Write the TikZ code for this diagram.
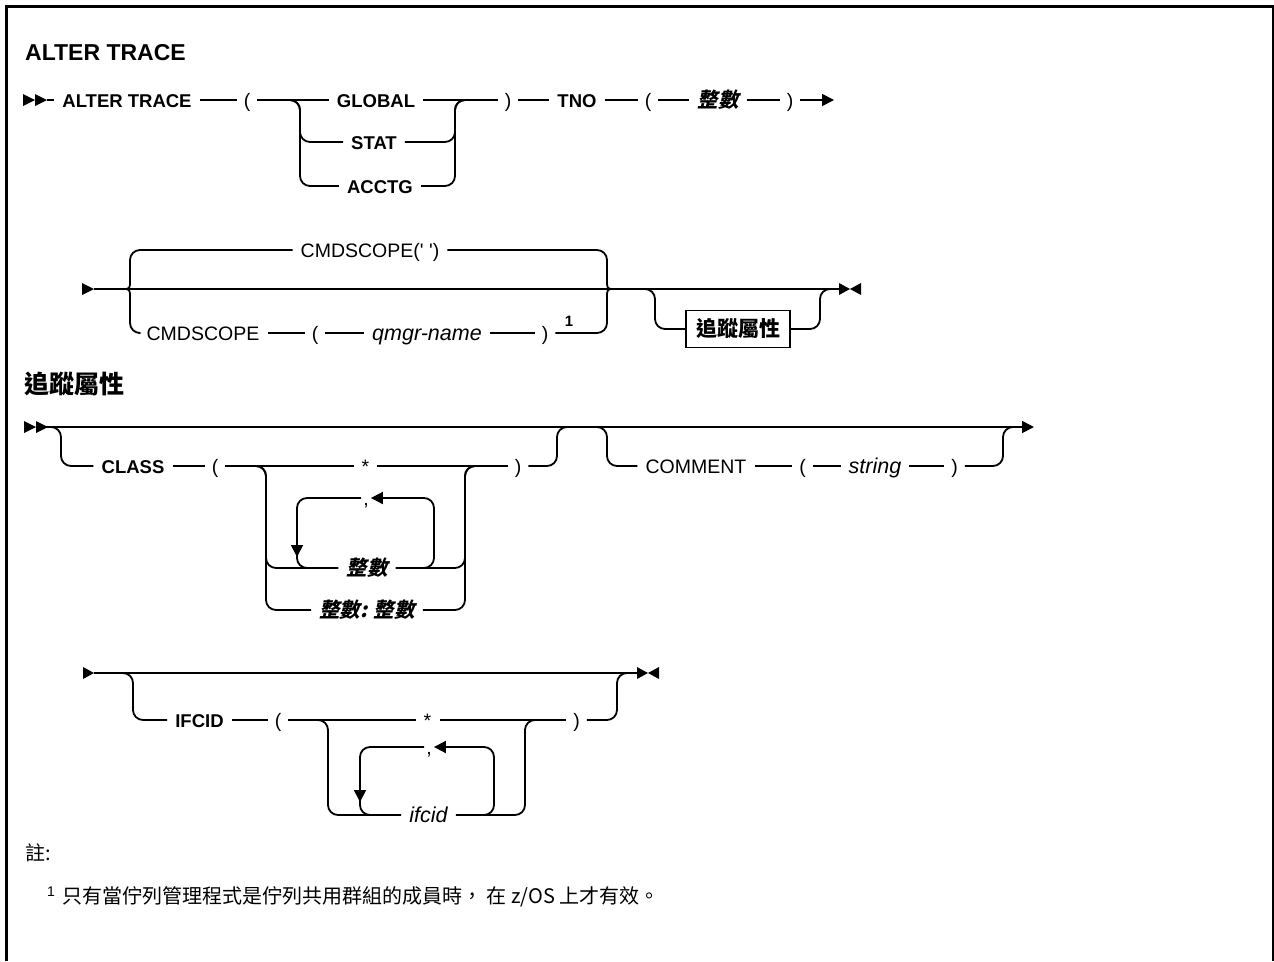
\documentclass[tikz,border=0pt]{standalone}
\usepackage{fontspec}
\setmainfont{Liberation Sans}
\newfontfamily\cjk{Noto Sans CJK TC}
\newfontfamily\cjksl{Noto Sans CJK TC}[FakeSlant=0.22]
\usetikzlibrary{arrows.meta}
\tikzset{
 rail/.style={line width=1.8pt, line join=round},
 rnd/.style={rounded corners=10pt},
 tok/.style={inner xsep=8pt, inner ysep=0pt, text height=14pt, text depth=0pt, font=\fontsize{19.5}{22}\selectfont},
 kwb/.style={tok, font=\bfseries\fontsize{18.5}{22}\selectfont},
 kwr/.style={tok},
 vartok/.style={tok, font=\itshape\fontsize{21.5}{24}\selectfont},
 cvar/.style={tok, font=\cjksl\bfseries\fontsize{20.5}{22}\selectfont},
 paren/.style={tok, inner xsep=7pt},
 sepc/.style={tok, inner xsep=2pt},
 arrowend/.style={-{Triangle[length=12pt,width=12pt]}},
 attrbox/.style={draw, line width=1.8pt, inner sep=0pt, minimum width=104pt, minimum height=37pt, font=\cjk\bfseries\fontsize{21}{24}\selectfont},
 cjktext/.style={inner sep=0pt, font=\cjk\fontsize{20}{24}\selectfont},
}
\begin{document}
\begin{tikzpicture}[x=1pt,y=-1pt]
\useasboundingbox (0,0) rectangle (1274,961);
\fill[white] (0,0) rectangle (1274,961);
\draw[line width=2.5pt] (6.25,961) -- (6.25,6.25) -- (1272.75,6.25) -- (1272.75,961);
% title
\node[anchor=base west, inner sep=0pt, font=\bfseries\fontsize{23}{26}\selectfont] (title) at (25,60) {ALTER TRACE};
% ---------- row 1
\fill (23,94) -- (35,100) -- (23,106) -- cycle;
\fill (35,94) -- (47,100) -- (35,106) -- cycle;
\coordinate (s1) at (47,100);
\node[kwb] (alter) at (127,100) {ALTER TRACE};
\node[paren] (lp1) at (247,100) {(};
\node[kwb] (global) at (376,100) {GLOBAL};
\node[kwb] (stat) at (374,142) {STAT};
\node[kwb] (acctg) at (380,186) {ACCTG};
\node[paren] (rp1) at (508,100) {)};
\node[kwb] (tno) at (577,100) {TNO};
\node[paren] (lp2) at (648,100) {(};
\node[cvar] (int1) at (718,100) {整數};
\node[paren] (rp2) at (790,100) {)};
\coordinate (e1) at (834,100);
\draw[rail] (s1) -- (alter);
\draw[rail] (alter) -- (lp1);
\draw[rail] (lp1) -- (global);
\draw[rail] (global) -- (rp1);
\draw[rail] (rp1) -- (tno);
\draw[rail] (tno) -- (lp2);
\draw[rail] (lp2) -- (int1);
\draw[rail] (int1) -- (rp2);
\draw[rail,arrowend] (rp2) -- (e1);
\draw[rail,rnd] (288,100) -- (300,100) -- (300,142) -- (stat.west);
\draw[rail,rnd] (288,100) -- (300,100) -- (300,186) -- (acctg.west);
\draw[rail,rnd] (stat.east) -- (455,142) -- (455,100) -- (468,100);
\draw[rail,rnd] (acctg.east) -- (455,186) -- (455,100) -- (468,100);
% ---------- row 2
\fill (82,283) -- (94,289) -- (82,295) -- cycle;
\coordinate (s2) at (94,289);
\coordinate (e2) at (840,289);
\draw[rail] (s2) -- (e2);
\fill (839,283) -- (850,289) -- (839,295) -- cycle;
\fill (861,283) -- (850,289) -- (861,295) -- cycle;
\node[kwr] (cmd1) at (370,250) {CMDSCOPE(\textquotesingle\ \textquotesingle)};
\node[kwr] (cmd2) at (203,333) {CMDSCOPE};
\node[paren] (lp3) at (315,333) {(};
\node[vartok] (qmgr) at (427,333) {qmgr-name};
\node[paren] (rp3) at (545,333) {)};
\node[anchor=base, inner sep=0pt, font=\bfseries\fontsize{15}{16}\selectfont] (n1) at (569,326) {1};
\draw[rail] (cmd2) -- (lp3);
\draw[rail] (lp3) -- (qmgr);
\draw[rail] (qmgr) -- (rp3);
\draw[rail,rnd] (cmd1.west) -- (130,250) -- (130,280);
\draw[rail] (130,279.5) .. controls (130,289) .. (123,289);
\draw[rail] (123,289) .. controls (130,289) .. (130,298.5);
\draw[rail,rnd] (130,298) -- (130,333) -- (cmd2.west);
\draw[rail,rnd] (cmd1.east) -- (607,250) -- (607,280);
\draw[rail] (607,279.5) .. controls (607,289) .. (614,289);
\draw[rail] (614,289) .. controls (607,289) .. (607,298.5);
\draw[rail,rnd] (607,298) -- (607,333) -- (rp3.east);
\node[attrbox] (attr) at (738,329) {追蹤屬性};
\draw[rail,rnd] (640,289) -- (655,289) -- (655,329) -- (attr.west);
\draw[rail,rnd] (attr.east) -- (820,329) -- (820,289) -- (833,289);
% ---------- row 3
\node[anchor=base west, inner sep=0pt, font=\cjk\bfseries\fontsize{25}{30}\selectfont] (t2) at (24,393) {追蹤屬性};
\fill (24,421) -- (36,427) -- (24,433) -- cycle;
\fill (36,421) -- (48,427) -- (36,433) -- cycle;
\coordinate (s3) at (48,427);
\coordinate (e3) at (1034,427);
\draw[rail,arrowend] (s3) -- (e3);
\node[kwb] (class) at (133,466) {CLASS};
\node[paren] (lp4) at (215,466) {(};
\node[kwr] (star1) at (365.5,466) {*};
\node[cvar] (int2) at (367,568) {整數};
\node[cvar] (int3) at (367,610) {整數: 整數};
\node[paren] (rp4) at (518,466) {)};
\node[sepc] (com1) at (366,498) {,};
\draw[rail,rnd] (45,427) -- (61,427) -- (61,466) -- (class.west);
\draw[rail] (class) -- (lp4);
\draw[rail] (lp4) -- (star1);
\draw[rail] (star1) -- (rp4);
\draw[rail,rnd] (250,466) -- (266,466) -- (266,568) -- (int2.west);
\draw[rail,rnd] (250,466) -- (266,466) -- (266,610) -- (int3.west);
\draw[rail,rnd] (int2.east) -- (465,568) -- (465,466) -- (480,466);
\draw[rail,rnd] (int3.east) -- (465,610) -- (465,466) -- (480,466);
\draw[rail,rnd] (rp4.east) -- (557,466) -- (557,427) -- (572,427);
\draw[rail,rnd,arrowend] (420,568) -- (434,568) -- (434,498) -- (com1.east);
\draw[rail,rnd,arrowend] (com1.west) -- (297,498) -- (297,557);
\draw[rail,rnd] (297,555) -- (297,568) -- (312,568);
\node[kwr] (comment) at (696,466) {COMMENT};
\node[paren] (lp5) at (802.5,466) {(};
\node[vartok] (string) at (875,466) {string};
\node[paren] (rp5) at (954.5,466) {)};
\draw[rail] (comment) -- (lp5);
\draw[rail] (lp5) -- (string);
\draw[rail] (string) -- (rp5);
\draw[rail,rnd] (592,427) -- (607,427) -- (607,466) -- (comment.west);
\draw[rail,rnd] (rp5.east) -- (1003,466) -- (1003,427) -- (1018,427);
% ---------- row 4
\fill (83,667) -- (94,673) -- (83,679) -- cycle;
\coordinate (s4) at (94,673);
\coordinate (e4) at (637,673);
\draw[rail] (s4) -- (e4);
\fill (637,667) -- (648,673) -- (637,679) -- cycle;
\fill (659,667) -- (648,673) -- (659,679) -- cycle;
\node[kwb] (ifcidk) at (199.5,720) {IFCID};
\node[paren] (lp6) at (278,720) {(};
\node[kwr] (star2) at (427.5,720) {*};
\node[vartok] (ifcidv) at (428.5,815) {ifcid};
\node[paren] (rp6) at (576.5,720) {)};
\node[sepc] (com2) at (429,747) {,};
\draw[rail] (ifcidk) -- (lp6);
\draw[rail] (lp6) -- (star2);
\draw[rail] (star2) -- (rp6);
\draw[rail,rnd] (118,673) -- (133,673) -- (133,720) -- (ifcidk.west);
\draw[rail,rnd] (312,720) -- (328,720) -- (328,815) -- (ifcidv.west);
\draw[rail,rnd] (ifcidv.east) -- (525,815) -- (525,720) -- (540,720);
\draw[rail,rnd] (rp6.east) -- (617,720) -- (617,673) -- (632,673);
\draw[rail,rnd,arrowend] (480,815) -- (494,815) -- (494,747) -- (com2.east);
\draw[rail,rnd,arrowend] (com2.west) -- (360,747) -- (360,802);
\draw[rail,rnd] (360,800) -- (360,815) -- (375,815);
% ---------- notes
\node[cjktext, anchor=west] (note) at (25,853) {註:};
\node[anchor=base west, inner sep=0pt, font=\fontsize{14}{16}\selectfont] (fn1) at (47,896) {1};
\node[cjktext, anchor=west] (fn) at (62,897) {只有當佇列管理程式是佇列共用群組的成員時， 在 z/OS 上才有效。};
\end{tikzpicture}
\end{document}
